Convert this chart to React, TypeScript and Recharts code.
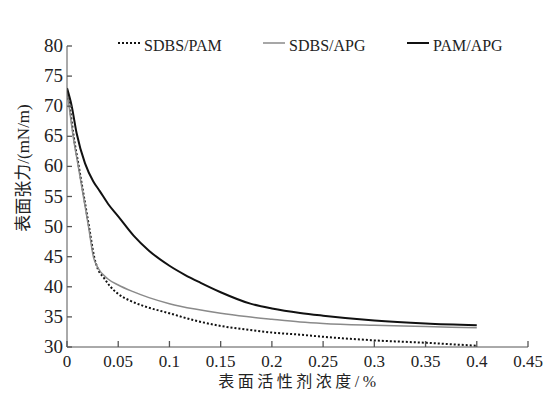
import { Label, Legend, Line, LineChart, XAxis, YAxis } from "recharts";

type Pt = { c: number; t: number };

const toPts = (rows: number[][]): Pt[] => rows.map(([c, t]) => ({ c, t }));

// surface tension (mN/m) vs. surfactant concentration (%)
const sdbsPam = toPts([
  [0, 72.7], [0.003, 69.5], [0.0065, 65], [0.0115, 60], [0.0165, 55],
  [0.0215, 50], [0.0265, 45], [0.03, 43], [0.0355, 41.6], [0.042, 40.1],
  [0.05, 38.8], [0.0615, 37.7], [0.075, 36.8], [0.1, 35.6], [0.125, 34.4],
  [0.15, 33.5], [0.175, 32.9], [0.2, 32.4], [0.2275, 32.05], [0.25, 31.7],
  [0.3, 31.1], [0.35, 30.7], [0.4, 30.2],
]);

const sdbsApg = toPts([
  [0, 72.7], [0.002, 70.1], [0.006, 65], [0.011, 60], [0.016, 55],
  [0.021, 50], [0.026, 44.8], [0.03, 43.2], [0.04, 41.3], [0.05, 40.3],
  [0.0645, 39.2], [0.08, 38.2], [0.1, 37.2], [0.125, 36.3], [0.15, 35.6],
  [0.175, 35.05], [0.2, 34.6], [0.2275, 34.15], [0.25, 33.9], [0.3, 33.6],
  [0.35, 33.4], [0.4, 33.2],
]);

const pamApg = toPts([
  [0, 73], [0.0045, 70.1], [0.0094, 65.5], [0.0176, 60.5], [0.0257, 57.5],
  [0.032, 55.9], [0.04, 53.8], [0.05, 51.7], [0.065, 48.5], [0.08, 46.0],
  [0.1, 43.5], [0.115, 42.0], [0.13, 40.7], [0.15, 39.1], [0.179, 37.2],
  [0.2, 36.4], [0.2275, 35.65], [0.25, 35.2], [0.3, 34.4], [0.35, 33.9],
  [0.4, 33.6],
]);

const xTicks = [0, 0.05, 0.1, 0.15, 0.2, 0.25, 0.3, 0.35, 0.4, 0.45];
const yTicks = [30, 35, 40, 45, 50, 55, 60, 65, 70, 75, 80];

const series = [
  { name: "SDBS/PAM", data: sdbsPam, color: "#111", width: 2, dash: "2 2" },
  { name: "SDBS/APG", data: sdbsApg, color: "#8a8a8a", width: 1.5, dash: undefined },
  { name: "PAM/APG", data: pamApg, color: "#111", width: 2, dash: undefined },
];

const serif = "'Liberation Serif', 'Times New Roman', serif";
const cjk = "'Liberation Serif', 'Noto Sans CJK SC', serif";
const axisColor = "#555";
const textColor = "#222";

// plot box edges; the inward tick marks are drawn from these
const plotLeft = 67;
const plotBottom = 347;

// x tick: label under the axis, short mark pointing up into the plot
function XTick(props: any) {
  const { x, payload } = props;
  return (
    <g>
      <path d={`M${x},${plotBottom}V${plotBottom - 6}`} stroke={axisColor} strokeWidth={1.3} fill="none" />
      <text x={x} y={plotBottom + 20} textAnchor="middle" fontFamily={serif} fontSize={17} fill={textColor}>
        {String(payload.value)}
      </text>
    </g>
  );
}

// y tick: label left of the axis, short mark pointing right into the plot
function YTick(props: any) {
  const { y, payload } = props;
  return (
    <g>
      <path d={`M${plotLeft},${y}H${plotLeft + 5}`} stroke={axisColor} strokeWidth={1.3} fill="none" />
      <text x={plotLeft - 4} y={y + 6} textAnchor="end" fontFamily={serif} fontSize={19} fill={textColor}>
        {payload.value}
      </text>
    </g>
  );
}

function LegendRow() {
  const starts = [118, 263, 407];
  return (
    <svg width={548} height={24}>
      {series.map((s, i) => (
        <g key={s.name}>
          <line
            x1={starts[i]}
            x2={starts[i] + 22}
            y1={11}
            y2={11}
            stroke={s.color}
            strokeWidth={s.width}
            strokeDasharray={s.dash}
          />
          <text x={starts[i] + 26} y={19} fontFamily={serif} fontSize={16} fill={textColor}>
            {s.name}
          </text>
        </g>
      ))}
    </svg>
  );
}

export default function App() {
  return (
    <div style={{ position: "absolute", left: 0, top: 0, background: "#fff" }}>
      <LineChart width={548} height={403} margin={{ top: 18, right: 20, left: 0, bottom: 0 }}>
        <XAxis
          type="number"
          dataKey="c"
          domain={[0, 0.45]}
          ticks={xTicks}
          allowDataOverflow
          height={56}
          stroke={axisColor}
          tickLine={false}
          tick={XTick}
        >
          <Label
            content={() => (
              <text x={299} y={387} textAnchor="middle" fontFamily={cjk} fontSize={16} letterSpacing={3.5} fill={textColor}>
                表面活性剂浓度/%
              </text>
            )}
          />
        </XAxis>
        <YAxis
          type="number"
          dataKey="t"
          domain={[30, 80]}
          ticks={yTicks}
          width={67}
          stroke={axisColor}
          tickLine={false}
          tick={YTick}
        >
          <Label
            content={() => (
              <text
                x={0}
                y={0}
                transform="translate(29,168) rotate(-90)"
                textAnchor="middle"
                fontFamily={cjk}
                fontSize={17}
                fill={textColor}
              >
                表面张力/(mN/m)
              </text>
            )}
          />
        </YAxis>
        <Legend
          verticalAlign="top"
          content={() => <LegendRow />}
          wrapperStyle={{ position: "absolute", top: 32, left: 0, width: 548 }}
        />
        {series.map((s) => (
          <Line
            key={s.name}
            name={s.name}
            data={s.data}
            dataKey="t"
            type="monotone"
            stroke={s.color}
            strokeWidth={s.width}
            strokeDasharray={s.dash}
            dot={false}
            activeDot={false}
            isAnimationActive={false}
          />
        ))}
      </LineChart>
    </div>
  );
}
